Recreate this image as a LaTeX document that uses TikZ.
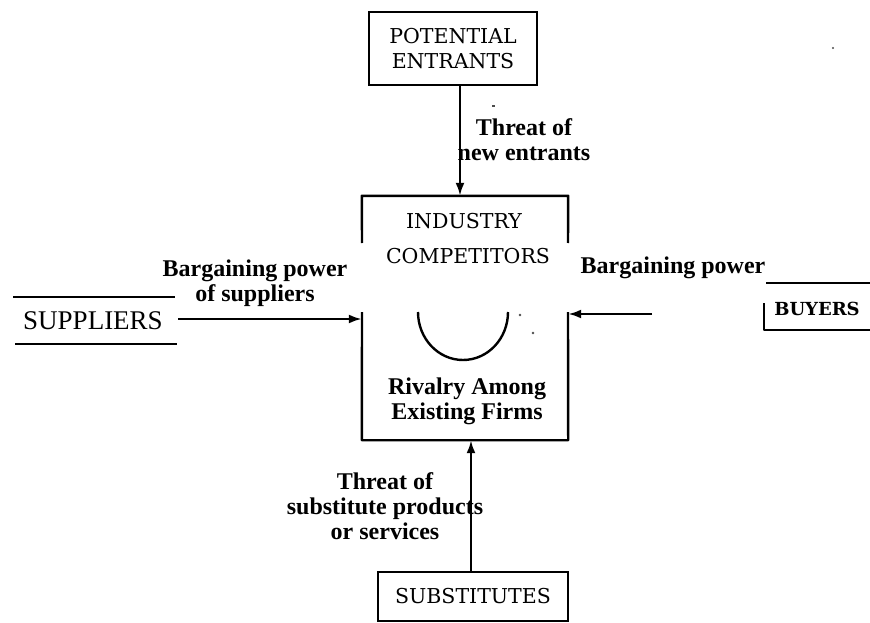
\documentclass[tikz,border=0pt]{standalone}
\usepackage{fontspec}
\setmainfont{Liberation Serif}
\newfontfamily\boxfont{DejaVu Serif}
\usetikzlibrary{arrows.meta}
\begin{document}
\begin{tikzpicture}[x=1pt,y=-1pt,
  edge/.style={line width=2.4pt,line join=round},
  arr/.style={line width=2.4pt,-{Latex[length=13pt,width=9pt]}},
  lbl/.style={font=\bfseries\fontsize{24}{25}\selectfont,align=center,inner sep=0pt},
  boxlbl/.style={font=\boxfont\fontsize{20.5}{25}\selectfont,align=center,inner sep=0pt},
  framebox/.style={draw,line width=2.4pt,inner sep=0pt},
  speck/.style={fill=black!70,draw=none}]
\useasboundingbox (0,0) rectangle (870,623);

% Potential entrants
\node[framebox,boxlbl,minimum width=168pt,minimum height=73pt] (pe) at (453,48.5) {POTENTIAL\\ENTRANTS};

% Industry competitors box (drawn with the gap of the original)
\node[minimum width=206pt,minimum height=244pt,inner sep=0pt] (ind) at (465,318) {};
\draw[edge] (362,243) -- (ind.north west) -- (ind.north east) -- (568,243);
\draw[edge] (362,312) -- (ind.south west) -- (ind.south east) -- (568,312);
\node[boxlbl] (indt) at (464,221) {INDUSTRY};
\node[boxlbl] (compt) at (468,256) {COMPETITORS};
\draw[edge] (418,312) arc[start angle=180,end angle=0,x radius=45,y radius=48];
\node[lbl] (riv) at (467,401) {Rivalry Among\\Existing Firms};

% Threat of new entrants
\coordinate (ta) at (460,0);
\draw[arr] (pe.south -| ta) -- (ind.north -| ta);
\node[lbl] (tne) at (524,140) {Threat of\\new entrants};

% Suppliers
\node[font=\fontsize{27}{30}\selectfont,inner sep=0pt] (sup) at (93,321) {SUPPLIERS};
\draw[edge] (13,297) -- (175,297);
\draw[edge] (15,344) -- (177,344);
\coordinate (supE) at (178,319);
\draw[arr] (supE) -- (ind.west |- supE);
\node[lbl] (bps) at (255,283) {Bargaining power\\of suppliers};

% Buyers
\node[font=\boxfont\bfseries\fontsize{18}{22}\selectfont,inner sep=0pt] (buy) at (817,309) {BUYERS};
\draw[edge] (766,283) -- (870,283);
\draw[edge] (870,330) -- (764,330) -- (764,303);
\coordinate (buyW) at (652,314);
\draw[arr] (buyW) -- (ind.east |- buyW);
\node[lbl] (bpb) at (673,268) {Bargaining power};

% Substitutes
\node[framebox,boxlbl,minimum width=190pt,minimum height=49pt] (sub) at (473,596.5) {SUBSTITUTES};
\coordinate (ba) at (471,0);
\draw[arr] (sub.north -| ba) -- (ind.south -| ba);
\node[lbl] (tsp) at (385,506) {Threat of\\substitute products\\or services};

% scan specks
\fill[speck] (520,315) circle (1.3pt);
\fill[speck] (533,333) circle (1.3pt);
\fill[speck] (833,48) circle (1.2pt);
\fill[speck] (492,105.5) rectangle (495,107);
\end{tikzpicture}
\end{document}
